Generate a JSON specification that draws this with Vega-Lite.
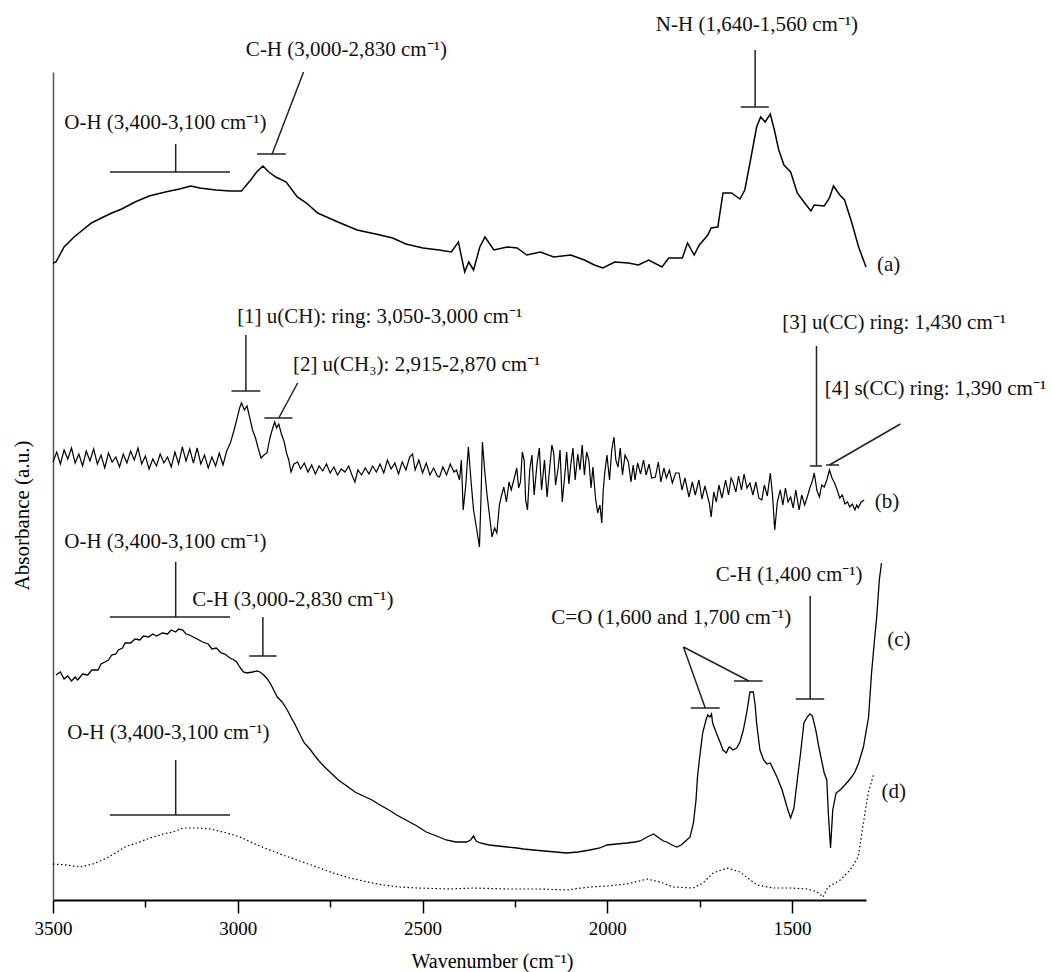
{
  "$schema": "https://vega.github.io/schema/vega-lite/v6.json",
  "width": 813,
  "height": 828,
  "autosize": {"type": "none"},
  "padding": {"left": 53, "top": 72, "right": 185, "bottom": 72},
  "background": "white",
  "config": {"view": {"stroke": null}, "font": "Liberation Serif"},
  "datasets": {
    "a": [
      {"wn":3500,"abs":637},{"wn":3492,"abs":638},{"wn":3470,"abs":653},{"wn":3443,"abs":663},{"wn":3396,"abs":677},{"wn":3369,"abs":682},{"wn":3341,"abs":687},{"wn":3314,"abs":691},{"wn":3278,"abs":698},{"wn":3240,"abs":704},{"wn":3196,"abs":708},{"wn":3158,"abs":711},{"wn":3127,"abs":714},{"wn":3103,"abs":712},{"wn":3059,"abs":710},{"wn":3020,"abs":709},{"wn":2990,"abs":709},{"wn":2965,"abs":720},{"wn":2949,"abs":728},{"wn":2932,"abs":734},{"wn":2916,"abs":728},{"wn":2897,"abs":723},{"wn":2869,"abs":718},{"wn":2839,"abs":703},{"wn":2814,"abs":697},{"wn":2784,"abs":687},{"wn":2729,"abs":678},{"wn":2677,"abs":670},{"wn":2627,"abs":666},{"wn":2581,"abs":662},{"wn":2545,"abs":656},{"wn":2499,"abs":652},{"wn":2455,"abs":650},{"wn":2422,"abs":648},{"wn":2403,"abs":658},{"wn":2386,"abs":628},{"wn":2375,"abs":638},{"wn":2362,"abs":630},{"wn":2345,"abs":653},{"wn":2331,"abs":663},{"wn":2307,"abs":650},{"wn":2271,"abs":653},{"wn":2244,"abs":652},{"wn":2218,"abs":645},{"wn":2181,"abs":648},{"wn":2145,"abs":643},{"wn":2099,"abs":645},{"wn":2062,"abs":640},{"wn":2035,"abs":635},{"wn":2012,"abs":632},{"wn":1980,"abs":638},{"wn":1943,"abs":637},{"wn":1916,"abs":635},{"wn":1888,"abs":640},{"wn":1852,"abs":633},{"wn":1834,"abs":642},{"wn":1797,"abs":642},{"wn":1783,"abs":657},{"wn":1765,"abs":645},{"wn":1751,"abs":655},{"wn":1728,"abs":665},{"wn":1719,"abs":672},{"wn":1701,"abs":673},{"wn":1687,"abs":707},{"wn":1664,"abs":707},{"wn":1641,"abs":701},{"wn":1628,"abs":710},{"wn":1614,"abs":737},{"wn":1596,"abs":773},{"wn":1585,"abs":783},{"wn":1573,"abs":778},{"wn":1559,"abs":786},{"wn":1548,"abs":770},{"wn":1536,"abs":750},{"wn":1522,"abs":735},{"wn":1504,"abs":728},{"wn":1486,"abs":707},{"wn":1468,"abs":698},{"wn":1449,"abs":689},{"wn":1440,"abs":695},{"wn":1413,"abs":694},{"wn":1399,"abs":702},{"wn":1388,"abs":714},{"wn":1371,"abs":705},{"wn":1358,"abs":700},{"wn":1339,"abs":678},{"wn":1320,"abs":653},{"wn":1300,"abs":633}
    ],
    "b": [
      {"wn":3500,"abs":438},{"wn":3490,"abs":448},{"wn":3480,"abs":436},{"wn":3470,"abs":450},{"wn":3460,"abs":441},{"wn":3450,"abs":452},{"wn":3440,"abs":437},{"wn":3430,"abs":446},{"wn":3420,"abs":434},{"wn":3410,"abs":449},{"wn":3400,"abs":439},{"wn":3390,"abs":451},{"wn":3380,"abs":436},{"wn":3370,"abs":445},{"wn":3360,"abs":432},{"wn":3350,"abs":447},{"wn":3340,"abs":438},{"wn":3330,"abs":443},{"wn":3320,"abs":433},{"wn":3310,"abs":446},{"wn":3300,"abs":437},{"wn":3290,"abs":449},{"wn":3280,"abs":440},{"wn":3270,"abs":452},{"wn":3260,"abs":436},{"wn":3250,"abs":444},{"wn":3240,"abs":431},{"wn":3230,"abs":441},{"wn":3220,"abs":434},{"wn":3210,"abs":446},{"wn":3200,"abs":437},{"wn":3190,"abs":443},{"wn":3180,"abs":433},{"wn":3170,"abs":448},{"wn":3160,"abs":436},{"wn":3150,"abs":453},{"wn":3140,"abs":439},{"wn":3130,"abs":451},{"wn":3120,"abs":437},{"wn":3110,"abs":452},{"wn":3100,"abs":436},{"wn":3090,"abs":445},{"wn":3080,"abs":432},{"wn":3070,"abs":443},{"wn":3060,"abs":434},{"wn":3050,"abs":447},{"wn":3040,"abs":435},{"wn":3030,"abs":449},{"wn":3020,"abs":457},{"wn":3010,"abs":470},{"wn":3003,"abs":480},{"wn":2995,"abs":492},{"wn":2990,"abs":497},{"wn":2982,"abs":490},{"wn":2975,"abs":494},{"wn":2968,"abs":483},{"wn":2960,"abs":470},{"wn":2952,"abs":462},{"wn":2945,"abs":452},{"wn":2937,"abs":442},{"wn":2929,"abs":445},{"wn":2921,"abs":447},{"wn":2913,"abs":462},{"wn":2907,"abs":470},{"wn":2900,"abs":478},{"wn":2895,"abs":472},{"wn":2889,"abs":476},{"wn":2882,"abs":466},{"wn":2875,"abs":459},{"wn":2868,"abs":447},{"wn":2862,"abs":440},{"wn":2856,"abs":428},{"wn":2848,"abs":436},{"wn":2838,"abs":438},{"wn":2830,"abs":431},{"wn":2820,"abs":437},{"wn":2810,"abs":428},{"wn":2800,"abs":435},{"wn":2790,"abs":426},{"wn":2780,"abs":434},{"wn":2770,"abs":429},{"wn":2760,"abs":436},{"wn":2750,"abs":427},{"wn":2740,"abs":433},{"wn":2730,"abs":425},{"wn":2720,"abs":431},{"wn":2710,"abs":428},{"wn":2700,"abs":434},{"wn":2690,"abs":424},{"wn":2683,"abs":418},{"wn":2675,"abs":430},{"wn":2665,"abs":425},{"wn":2655,"abs":432},{"wn":2645,"abs":426},{"wn":2635,"abs":434},{"wn":2625,"abs":428},{"wn":2615,"abs":436},{"wn":2605,"abs":427},{"wn":2595,"abs":440},{"wn":2585,"abs":431},{"wn":2575,"abs":437},{"wn":2565,"abs":426},{"wn":2555,"abs":438},{"wn":2545,"abs":430},{"wn":2535,"abs":443},{"wn":2527,"abs":446},{"wn":2520,"abs":430},{"wn":2510,"abs":440},{"wn":2500,"abs":427},{"wn":2490,"abs":437},{"wn":2480,"abs":425},{"wn":2470,"abs":432},{"wn":2460,"abs":424},{"wn":2454,"abs":423},{"wn":2445,"abs":433},{"wn":2435,"abs":425},{"wn":2425,"abs":436},{"wn":2415,"abs":428},{"wn":2408,"abs":430},{"wn":2400,"abs":420},{"wn":2395,"abs":440},{"wn":2390,"abs":390},{"wn":2383,"abs":415},{"wn":2376,"abs":453},{"wn":2369,"abs":420},{"wn":2362,"abs":390},{"wn":2354,"abs":372},{"wn":2346,"abs":353},{"wn":2342,"abs":400},{"wn":2338,"abs":458},{"wn":2332,"abs":430},{"wn":2326,"abs":407},{"wn":2319,"abs":385},{"wn":2312,"abs":363},{"wn":2305,"abs":372},{"wn":2299,"abs":367},{"wn":2292,"abs":395},{"wn":2286,"abs":405},{"wn":2280,"abs":413},{"wn":2273,"abs":398},{"wn":2266,"abs":418},{"wn":2260,"abs":410},{"wn":2253,"abs":420},{"wn":2245,"abs":432},{"wn":2240,"abs":412},{"wn":2235,"abs":418},{"wn":2230,"abs":448},{"wn":2225,"abs":440},{"wn":2221,"abs":400},{"wn":2216,"abs":390},{"wn":2210,"abs":430},{"wn":2204,"abs":445},{"wn":2198,"abs":405},{"wn":2190,"abs":437},{"wn":2184,"abs":452},{"wn":2178,"abs":410},{"wn":2170,"abs":440},{"wn":2163,"abs":403},{"wn":2157,"abs":428},{"wn":2150,"abs":455},{"wn":2145,"abs":447},{"wn":2140,"abs":415},{"wn":2133,"abs":432},{"wn":2128,"abs":450},{"wn":2122,"abs":398},{"wn":2115,"abs":425},{"wn":2110,"abs":448},{"wn":2104,"abs":416},{"wn":2099,"abs":435},{"wn":2093,"abs":452},{"wn":2087,"abs":420},{"wn":2080,"abs":446},{"wn":2074,"abs":430},{"wn":2068,"abs":455},{"wn":2062,"abs":425},{"wn":2056,"abs":448},{"wn":2050,"abs":440},{"wn":2044,"abs":412},{"wn":2039,"abs":433},{"wn":2032,"abs":402},{"wn":2026,"abs":387},{"wn":2020,"abs":395},{"wn":2015,"abs":377},{"wn":2011,"abs":410},{"wn":2007,"abs":427},{"wn":2001,"abs":445},{"wn":1994,"abs":420},{"wn":1988,"abs":450},{"wn":1982,"abs":463},{"wn":1977,"abs":440},{"wn":1971,"abs":433},{"wn":1965,"abs":452},{"wn":1959,"abs":425},{"wn":1952,"abs":445},{"wn":1943,"abs":438},{"wn":1936,"abs":418},{"wn":1930,"abs":435},{"wn":1925,"abs":420},{"wn":1918,"abs":437},{"wn":1910,"abs":426},{"wn":1902,"abs":440},{"wn":1895,"abs":425},{"wn":1887,"abs":436},{"wn":1880,"abs":422},{"wn":1870,"abs":423},{"wn":1862,"abs":438},{"wn":1855,"abs":418},{"wn":1847,"abs":432},{"wn":1840,"abs":422},{"wn":1832,"abs":430},{"wn":1824,"abs":417},{"wn":1815,"abs":427},{"wn":1806,"abs":427},{"wn":1798,"abs":410},{"wn":1790,"abs":422},{"wn":1779,"abs":403},{"wn":1770,"abs":418},{"wn":1762,"abs":405},{"wn":1752,"abs":420},{"wn":1744,"abs":401},{"wn":1736,"abs":414},{"wn":1724,"abs":397},{"wn":1719,"abs":383},{"wn":1712,"abs":408},{"wn":1705,"abs":398},{"wn":1698,"abs":415},{"wn":1690,"abs":402},{"wn":1687,"abs":407},{"wn":1680,"abs":420},{"wn":1672,"abs":405},{"wn":1665,"abs":422},{"wn":1660,"abs":418},{"wn":1652,"abs":408},{"wn":1645,"abs":424},{"wn":1637,"abs":410},{"wn":1630,"abs":426},{"wn":1622,"abs":412},{"wn":1614,"abs":417},{"wn":1606,"abs":405},{"wn":1598,"abs":418},{"wn":1590,"abs":402},{"wn":1582,"abs":400},{"wn":1575,"abs":415},{"wn":1567,"abs":404},{"wn":1559,"abs":427},{"wn":1553,"abs":405},{"wn":1547,"abs":370},{"wn":1540,"abs":398},{"wn":1532,"abs":410},{"wn":1525,"abs":395},{"wn":1518,"abs":412},{"wn":1511,"abs":398},{"wn":1504,"abs":403},{"wn":1497,"abs":392},{"wn":1490,"abs":410},{"wn":1481,"abs":390},{"wn":1474,"abs":405},{"wn":1466,"abs":395},{"wn":1459,"abs":403},{"wn":1452,"abs":412},{"wn":1446,"abs":418},{"wn":1440,"abs":427},{"wn":1433,"abs":410},{"wn":1426,"abs":403},{"wn":1420,"abs":415},{"wn":1413,"abs":413},{"wn":1406,"abs":420},{"wn":1399,"abs":430},{"wn":1392,"abs":422},{"wn":1385,"abs":417},{"wn":1378,"abs":410},{"wn":1371,"abs":402},{"wn":1364,"abs":405},{"wn":1357,"abs":396},{"wn":1350,"abs":398},{"wn":1344,"abs":393},{"wn":1337,"abs":396},{"wn":1330,"abs":390},{"wn":1325,"abs":395},{"wn":1321,"abs":392},{"wn":1313,"abs":398},{"wn":1305,"abs":400}
    ],
    "c": [
      {"wn":3492,"abs":225},{"wn":3480,"abs":228},{"wn":3470,"abs":221},{"wn":3460,"abs":224},{"wn":3450,"abs":219},{"wn":3440,"abs":223},{"wn":3433,"abs":220},{"wn":3420,"abs":226},{"wn":3406,"abs":225},{"wn":3395,"abs":230},{"wn":3378,"abs":230},{"wn":3370,"abs":236},{"wn":3360,"abs":238},{"wn":3350,"abs":240},{"wn":3341,"abs":245},{"wn":3330,"abs":246},{"wn":3323,"abs":250},{"wn":3312,"abs":252},{"wn":3305,"abs":257},{"wn":3290,"abs":257},{"wn":3278,"abs":261},{"wn":3265,"abs":260},{"wn":3255,"abs":264},{"wn":3241,"abs":263},{"wn":3230,"abs":266},{"wn":3220,"abs":264},{"wn":3204,"abs":267},{"wn":3190,"abs":266},{"wn":3180,"abs":270},{"wn":3168,"abs":268},{"wn":3160,"abs":271},{"wn":3149,"abs":270},{"wn":3140,"abs":266},{"wn":3131,"abs":265},{"wn":3115,"abs":262},{"wn":3095,"abs":258},{"wn":3080,"abs":256},{"wn":3070,"abs":251},{"wn":3058,"abs":252},{"wn":3045,"abs":247},{"wn":3035,"abs":246},{"wn":3021,"abs":242},{"wn":3010,"abs":240},{"wn":3003,"abs":238},{"wn":2995,"abs":233},{"wn":2985,"abs":228},{"wn":2975,"abs":227},{"wn":2960,"abs":228},{"wn":2948,"abs":229},{"wn":2940,"abs":228},{"wn":2930,"abs":225},{"wn":2920,"abs":221},{"wn":2911,"abs":216},{"wn":2900,"abs":208},{"wn":2893,"abs":203},{"wn":2880,"abs":198},{"wn":2866,"abs":190},{"wn":2855,"abs":182},{"wn":2847,"abs":177},{"wn":2835,"abs":168},{"wn":2820,"abs":157},{"wn":2805,"abs":151},{"wn":2793,"abs":145},{"wn":2780,"abs":139},{"wn":2765,"abs":133},{"wn":2745,"abs":126},{"wn":2728,"abs":120},{"wn":2705,"abs":114},{"wn":2683,"abs":108},{"wn":2660,"abs":104},{"wn":2637,"abs":100},{"wn":2615,"abs":95},{"wn":2591,"abs":90},{"wn":2570,"abs":85},{"wn":2545,"abs":80},{"wn":2515,"abs":74},{"wn":2490,"abs":68},{"wn":2462,"abs":64},{"wn":2436,"abs":60},{"wn":2410,"abs":58},{"wn":2381,"abs":58},{"wn":2370,"abs":60},{"wn":2362,"abs":64},{"wn":2355,"abs":59},{"wn":2344,"abs":57},{"wn":2320,"abs":55},{"wn":2295,"abs":54},{"wn":2271,"abs":53},{"wn":2245,"abs":52},{"wn":2227,"abs":51},{"wn":2200,"abs":50},{"wn":2170,"abs":49},{"wn":2140,"abs":48},{"wn":2110,"abs":47},{"wn":2080,"abs":48},{"wn":2047,"abs":50},{"wn":2020,"abs":52},{"wn":2001,"abs":55},{"wn":1975,"abs":56},{"wn":1947,"abs":57},{"wn":1925,"abs":58},{"wn":1911,"abs":59},{"wn":1892,"abs":63},{"wn":1875,"abs":66},{"wn":1860,"abs":62},{"wn":1848,"abs":59},{"wn":1839,"abs":58},{"wn":1825,"abs":55},{"wn":1812,"abs":53},{"wn":1800,"abs":55},{"wn":1785,"abs":60},{"wn":1776,"abs":63},{"wn":1767,"abs":77},{"wn":1760,"abs":100},{"wn":1756,"abs":123},{"wn":1751,"abs":140},{"wn":1742,"abs":167},{"wn":1733,"abs":180},{"wn":1728,"abs":185},{"wn":1722,"abs":183},{"wn":1718,"abs":186},{"wn":1715,"abs":177},{"wn":1705,"abs":167},{"wn":1695,"abs":158},{"wn":1687,"abs":150},{"wn":1678,"abs":147},{"wn":1672,"abs":152},{"wn":1669,"abs":153},{"wn":1660,"abs":150},{"wn":1650,"abs":152},{"wn":1641,"abs":158},{"wn":1632,"abs":170},{"wn":1623,"abs":187},{"wn":1614,"abs":208},{"wn":1605,"abs":208},{"wn":1600,"abs":195},{"wn":1596,"abs":177},{"wn":1587,"abs":150},{"wn":1577,"abs":140},{"wn":1568,"abs":136},{"wn":1559,"abs":137},{"wn":1550,"abs":130},{"wn":1541,"abs":123},{"wn":1527,"abs":110},{"wn":1513,"abs":92},{"wn":1504,"abs":82},{"wn":1495,"abs":92},{"wn":1486,"abs":120},{"wn":1477,"abs":147},{"wn":1468,"abs":177},{"wn":1459,"abs":183},{"wn":1452,"abs":186},{"wn":1445,"abs":184},{"wn":1436,"abs":170},{"wn":1426,"abs":150},{"wn":1413,"abs":127},{"wn":1406,"abs":120},{"wn":1402,"abs":87},{"wn":1396,"abs":52},{"wn":1390,"abs":90},{"wn":1381,"abs":107},{"wn":1370,"abs":110},{"wn":1362,"abs":113},{"wn":1350,"abs":118},{"wn":1339,"abs":123},{"wn":1330,"abs":128},{"wn":1320,"abs":137},{"wn":1307,"abs":153},{"wn":1293,"abs":183},{"wn":1285,"abs":227},{"wn":1277,"abs":260},{"wn":1271,"abs":283},{"wn":1264,"abs":320},{"wn":1258,"abs":337}
    ],
    "d": [
      {"wn":3500,"abs":36},{"wn":3462,"abs":35},{"wn":3427,"abs":33},{"wn":3392,"abs":36},{"wn":3354,"abs":42},{"wn":3327,"abs":48},{"wn":3300,"abs":54},{"wn":3273,"abs":57},{"wn":3237,"abs":62},{"wn":3202,"abs":66},{"wn":3175,"abs":68},{"wn":3148,"abs":72},{"wn":3110,"abs":72},{"wn":3075,"abs":71},{"wn":3029,"abs":67},{"wn":2994,"abs":63},{"wn":2959,"abs":57},{"wn":2921,"abs":51},{"wn":2878,"abs":45},{"wn":2832,"abs":39},{"wn":2786,"abs":33},{"wn":2742,"abs":27},{"wn":2696,"abs":22},{"wn":2650,"abs":18},{"wn":2607,"abs":15},{"wn":2561,"abs":13},{"wn":2515,"abs":12},{"wn":2426,"abs":11},{"wn":2363,"abs":12},{"wn":2271,"abs":11},{"wn":2182,"abs":11},{"wn":2109,"abs":10},{"wn":2047,"abs":13},{"wn":2001,"abs":14},{"wn":1947,"abs":16},{"wn":1892,"abs":21},{"wn":1857,"abs":18},{"wn":1822,"abs":13},{"wn":1768,"abs":12},{"wn":1741,"abs":17},{"wn":1714,"abs":27},{"wn":1676,"abs":32},{"wn":1641,"abs":28},{"wn":1595,"abs":15},{"wn":1551,"abs":12},{"wn":1505,"abs":12},{"wn":1459,"abs":11},{"wn":1432,"abs":8},{"wn":1416,"abs":3},{"wn":1403,"abs":13},{"wn":1370,"abs":20},{"wn":1343,"abs":30},{"wn":1321,"abs":43},{"wn":1307,"abs":77},{"wn":1294,"abs":107},{"wn":1280,"abs":125}
    ],
    "segs": [
      {"wn":3346,"abs":728,"wn2":3021,"abs2":728},{"wn":3168,"abs":728,"wn2":3168,"abs2":756},
      {"wn":2948,"abs":746,"wn2":2870,"abs2":746},{"wn":2907,"abs":746,"wn2":2822,"abs2":828},
      {"wn":1639,"abs":793,"wn2":1563,"abs2":793},{"wn":1600,"abs":793,"wn2":1600,"abs2":850},
      {"wn":3017,"abs":509,"wn2":2939,"abs2":509},{"wn":2978,"abs":509,"wn2":2978,"abs2":565},
      {"wn":2928,"abs":482,"wn2":2852,"abs2":482},{"wn":2889,"abs":482,"wn2":2838,"abs2":517},
      {"wn":1452,"abs":434,"wn2":1419,"abs2":434},{"wn":1434,"abs":434,"wn2":1434,"abs2":554},
      {"wn":1408,"abs":435,"wn2":1373,"abs2":435},{"wn":1399,"abs":435,"wn2":1207,"abs2":476},
      {"wn":3346,"abs":283,"wn2":3021,"abs2":283},{"wn":3168,"abs":283,"wn2":3168,"abs2":338},
      {"wn":2969,"abs":244,"wn2":2895,"abs2":244},{"wn":2932,"abs":244,"wn2":2932,"abs2":283},
      {"wn":1774,"abs":192,"wn2":1696,"abs2":192},{"wn":1657,"abs":219,"wn2":1580,"abs2":219},
      {"wn":1794,"abs":253,"wn2":1735,"abs2":192},{"wn":1794,"abs":253,"wn2":1617,"abs2":219},
      {"wn":1490,"abs":201,"wn2":1413,"abs2":201},{"wn":1451,"abs":201,"wn2":1451,"abs2":304},
      {"wn":3346,"abs":85,"wn2":3021,"abs2":85},{"wn":3168,"abs":85,"wn2":3168,"abs2":140}
    ],
    "labels": [
      {"wn":3196,"abs":777,"text":"O-H (3,400-3,100 cm⁻¹)"},
      {"wn":2706,"abs":850,"text":"C-H (3,000-2,830 cm⁻¹)"},
      {"wn":1595,"abs":875,"text":"N-H (1,640-1,560 cm⁻¹)"},
      {"wn":2616,"abs":583,"text":"[1] u(CH): ring: 3,050-3,000 cm⁻¹"},
      {"wn":2516,"abs":535,"text":"[2] u(CH₃): 2,915-2,870 cm⁻¹"},
      {"wn":1224,"abs":577,"text":"[3] u(CC) ring: 1,430 cm⁻¹"},
      {"wn":1112,"abs":511,"text":"[4] s(CC) ring: 1,390 cm⁻¹"},
      {"wn":3196,"abs":358,"text":"O-H (3,400-3,100 cm⁻¹)"},
      {"wn":2851,"abs":300,"text":"C-H (3,000-2,830 cm⁻¹)"},
      {"wn":1827,"abs":282,"text":"C=O (1,600 and 1,700 cm⁻¹)"},
      {"wn":1508,"abs":325,"text":"C-H (1,400 cm⁻¹)"},
      {"wn":3188,"abs":167,"text":"O-H (3,400-3,100 cm⁻¹)"},
      {"wn":1239,"abs":635,"text":"(a)"},
      {"wn":1243,"abs":398,"text":"(b)"},
      {"wn":1211,"abs":260,"text":"(c)"},
      {"wn":1225,"abs":108,"text":"(d)"}
    ]
  },
  "encoding": {
    "x": {
      "field": "wn", "type": "quantitative",
      "scale": {"domain": [1300, 3500], "reverse": true, "nice": false, "zero": false},
      "axis": {
        "values": [3500, 3250, 3000, 2750, 2500, 2250, 2000, 1750, 1500],
        "format": "d",
        "labelExpr": "datum.value % 500 === 0 ? datum.label : ''",
        "tickSize": {"condition": {"test": "datum.value % 500 === 0", "value": 13}, "value": 7},
        "tickColor": "#000", "tickWidth": 1.5,
        "domainColor": "#000", "domainWidth": 2,
        "grid": false,
        "labelFont": "Liberation Serif", "labelFontSize": 19, "labelColor": "#000",
        "labelPadding": 6, "labelOverlap": false, "labelFlush": false,
        "title": "Wavenumber (cm⁻¹)",
        "titleFont": "Liberation Serif", "titleFontSize": 20, "titleFontWeight": "normal", "titleColor": "#000",
        "titleX": 439, "titleY": 61, "titleBaseline": "middle", "titleAlign": "center"
      }
    },
    "y": {
      "field": "abs", "type": "quantitative",
      "scale": {"domain": [0, 828], "nice": false, "zero": false},
      "axis": {
        "ticks": false, "labels": false, "grid": false,
        "domainColor": "#555", "domainWidth": 1.5,
        "title": "Absorbance (a.u.)",
        "titleFont": "Liberation Serif", "titleFontSize": 21, "titleFontWeight": "normal", "titleColor": "#000",
        "titleX": -31, "titleY": 443, "titleAngle": -90, "titleBaseline": "middle", "titleAlign": "center"
      }
    }
  },
  "layer": [
    {
      "data": {"name": "a"},
      "mark": {"type": "line", "color": "#000", "strokeWidth": 1.5}
    },
    {
      "data": {"name": "b"},
      "mark": {"type": "line", "color": "#000", "strokeWidth": 1.2}
    },
    {
      "data": {"name": "c"},
      "mark": {"type": "line", "color": "#000", "strokeWidth": 1.3}
    },
    {
      "data": {"name": "d"},
      "mark": {"type": "line", "color": "#000", "strokeWidth": 1.2, "strokeDash": [1.5, 2.5]}
    },
    {
      "data": {"name": "segs"},
      "mark": {"type": "rule", "color": "#222", "strokeWidth": 1.5},
      "encoding": {
        "x2": {"field": "wn2"},
        "y2": {"field": "abs2"}
      }
    },
    {
      "data": {"name": "labels"},
      "mark": {"type": "text", "font": "Liberation Serif", "fontSize": 21, "color": "#111", "align": "center", "baseline": "middle"},
      "encoding": {
        "text": {"field": "text"}
      }
    }
  ]
}
